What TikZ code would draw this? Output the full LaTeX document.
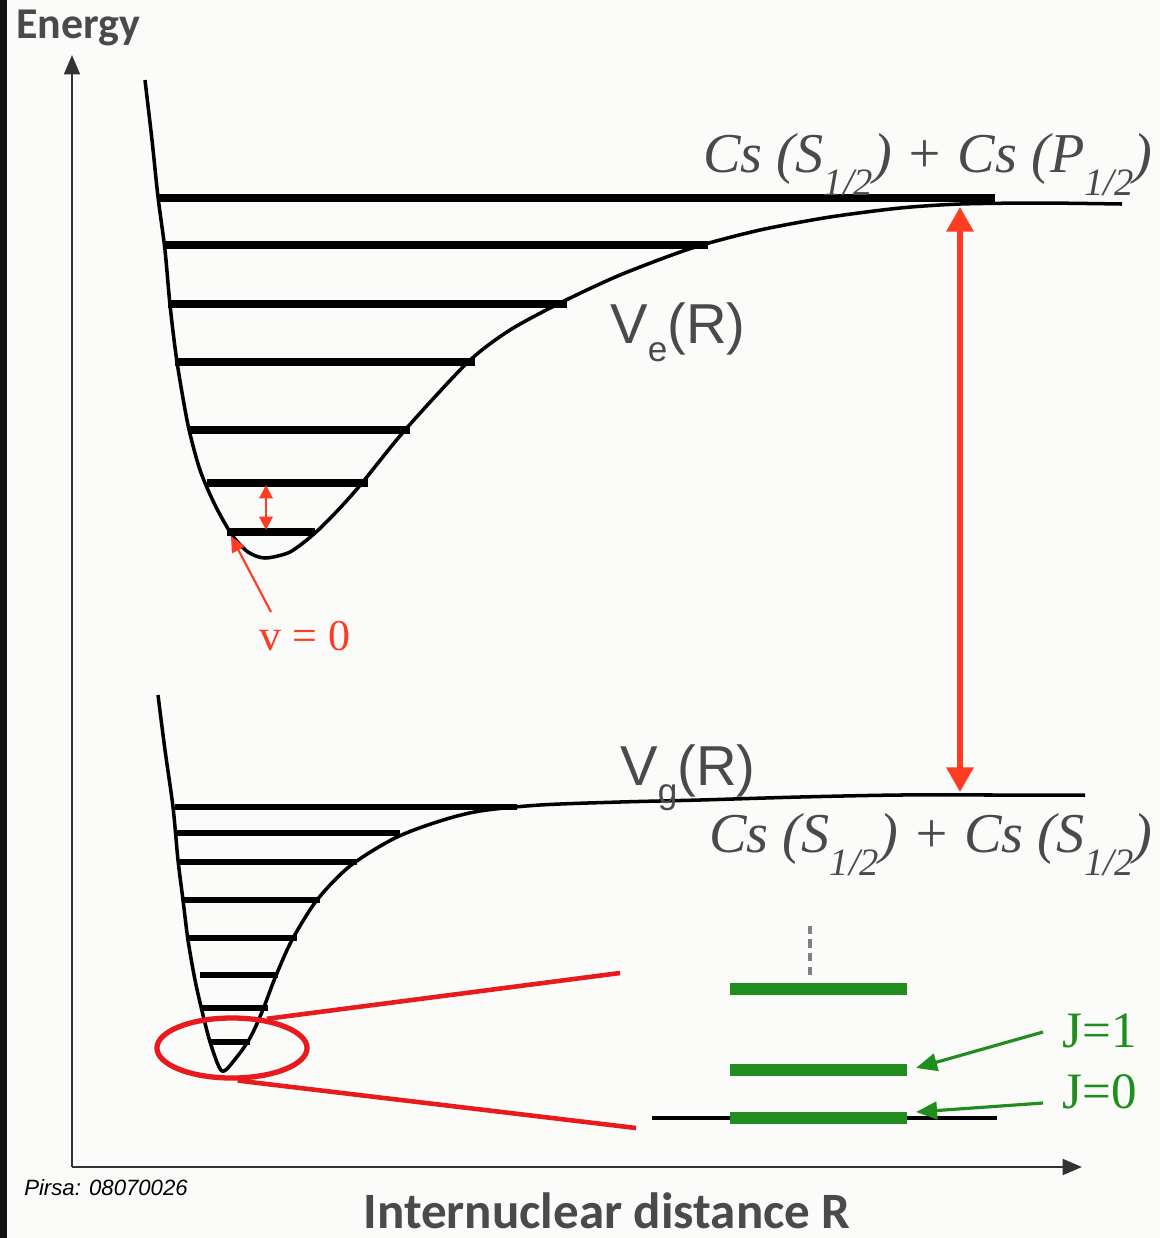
\documentclass[tikz,border=0pt]{standalone}
\usepackage{fontspec}
\setmainfont{Liberation Serif}
\newfontfamily\calfont{Carlito}
\newfontfamily\arfont{Liberation Sans}
\usetikzlibrary{arrows.meta,shapes.geometric}
\definecolor{bg}{HTML}{FBFBF9}
\definecolor{redA}{HTML}{FF3B22}
\definecolor{redB}{HTML}{E81A1E}
\definecolor{grn}{HTML}{1F8E1F}
\definecolor{txt}{HTML}{4A4A4A}
\definecolor{axis}{HTML}{333333}
\newcommand\lsub[1]{\raisebox{-0.42em}{\fontsize{11}{11}\selectfont #1}}
\newcommand\vsub[1]{\raisebox{-0.32em}{\fontsize{10}{10}\selectfont #1}}
\begin{document}
\begin{tikzpicture}[x=0.01cm,y=-0.01cm,
  pot/.style={line width=1pt,black,line join=round},
  lvlup/.style={line width=2pt,black},
  lvldn/.style={line width=1.7pt,black},
  axisline/.style={line width=0.7pt,axis,-{Triangle[width=4.5pt,length=5.5pt]}},
  bigarrow/.style={line width=1.5pt,redA,{Triangle[width=7.5pt,length=7pt]}-{Triangle[width=7.5pt,length=7pt]}},
  smallarrow/.style={line width=0.6pt,redA,{Triangle[width=3.8pt,length=3.8pt]}-{Triangle[width=3.8pt,length=3.8pt]}},
  ptrred/.style={line width=0.6pt,redA,-{Triangle[width=4pt,length=4.5pt]}},
  ptrgrn/.style={line width=0.9pt,grn,-{Triangle[width=5pt,length=6pt]}},
  zoomline/.style={line width=1.3pt,redB},
  gbar/.style={line width=3.4pt,grn},
  pottext/.style={font=\arfont\fontsize{16}{16}\selectfont,text=txt,inner sep=0pt,anchor=base},
  statetext/.style={font=\itshape\fontsize{16}{16}\selectfont,text=txt,inner sep=0pt,anchor=base},
  jtext/.style={font=\fontsize{14.5}{15}\selectfont,text=grn,inner sep=0pt,anchor=base}
]
\useasboundingbox (0,0) rectangle (1160,1238);
\fill[bg] (0,0) rectangle (1160,1238);
\fill[black!93] (0,0) rectangle (7,1238);

% axes
\coordinate (origin) at (72,1167);
\coordinate (ytop) at (72,55);
\coordinate (xend) at (1082,1167);
\draw[axisline] (origin) -- (ytop);
\draw[axisline] (origin) -- (xend);
\node[font=\calfont\bfseries\fontsize{12.5}{13}\selectfont,text=txt,inner sep=0pt,anchor=base] (energy) at (78,38) {Energy};
\node[font=\calfont\bfseries\fontsize{14.5}{15}\selectfont,text=txt,inner sep=0pt,anchor=base] (rlabel) at (607,1228) {Internuclear distance R};
\node[font=\arfont\itshape\fontsize{6.3}{7}\selectfont,text=black,inner sep=0pt,anchor=base] (pirsa) at (106,1195) {Pirsa: 08070026};

% upper potential V_e
\draw[pot] plot[smooth,tension=0.45] coordinates {
 (145,80) (152,140) (158,197) (165,250) (170,305) (177,362) (188,425) (200,470)
 (215,505) (232,535) (248,552) (265,558) (290,552) (315,533) (340,508) (362,483)
 (405,430) (468,362) (510,330) (560,303) (620,275) (692,248) (760,230)
 (830,217) (900,208) (960,204) (1040,203) (1122,204)};
\foreach \y/\a/\b in {198/158/995, 245/165/708, 304/168/567, 362/175/475, 430/188/410, 483/207/368, 532/227/315}
  \draw[lvlup] (\a,\y) -- (\b,\y);

% lower potential V_g
\draw[pot] plot[smooth,tension=0.5] coordinates {
 (158,695) (165,750) (173,807) (178,860) (183,900) (188,940) (195,980) (203,1015)
 (211,1045) (222,1071) (236,1058) (250,1038) (262,1012) (275,978) (292,940) (317,900)
 (350,866) (395,838) (440,821) (480,811) (540,805) (620,802) (700,800) (800,797)
 (900,795) (1000,795) (1085,795)};
\foreach \y/\a/\b in {807/175/517, 833/177/400, 862/180/357, 900/183/320, 938/186/297, 975/200/278, 1008/202/268, 1042/210/250}
  \draw[lvldn] (\a,\y) -- (\b,\y);

% labels of potentials and asymptotes
\node[pottext] (ve) at (678,343) {V\vsub{e}(R)};
\node[pottext] (vg) at (688,785) {V\vsub{g}(R)};
\node[statetext] (upstate) at (928,172) {Cs (S\lsub{1/2}) + Cs (P\lsub{1/2})};
\node[statetext] (dnstate) at (931,852) {Cs (S\lsub{1/2}) + Cs (S\lsub{1/2})};

% transition arrow
\coordinate (tup) at (960,207);
\coordinate (tdn) at (960,792);
\draw[bigarrow] (tdn) -- (tup);

% vibrational spacing arrow and v=0
\coordinate (vs1) at (266,485);
\coordinate (vs2) at (266,530);
\draw[smallarrow] (vs1) -- (vs2);
\node[font=\fontsize{12.5}{13}\selectfont,text=redA,inner sep=0pt,anchor=base] (vzero) at (305,650) {v = 0};
\coordinate (vtail) at (271,612);
\coordinate (vhead) at (231,536);
\draw[ptrred] (vtail) -- (vhead);

% zoom ring
\node[draw=redB,line width=1.5pt,ellipse,inner sep=0pt,
      minimum width=1.5cm,minimum height=0.6cm] (ring) at (232,1048) {};
\coordinate (zu) at (620,973);
\coordinate (zd) at (636,1128);
\draw[zoomline] (ring.40) -- (zu);
\draw[zoomline] (ring.-80) -- (zd);

% rotational levels
\coordinate (b0a) at (652,1118);
\coordinate (b0b) at (997,1118);
\draw[line width=1.4pt,black] (b0a) -- (b0b);
\draw[gbar] (730,1118) -- (907,1118);
\draw[gbar] (730,1070) -- (907,1070);
\draw[gbar] (730,989) -- (907,989);
\draw[line width=0.9pt,gray,dash pattern=on 2.3pt off 1.6pt] (810,975) -- (810,925);

\node[jtext] (j1) at (1100,1047) {J=1};
\node[jtext] (j0) at (1100,1108) {J=0};
\coordinate (j1t) at (1043,1032);
\coordinate (j1h) at (916,1068);
\coordinate (j0t) at (1043,1103);
\coordinate (j0h) at (916,1112);
\draw[ptrgrn] (j1t) -- (j1h);
\draw[ptrgrn] (j0t) -- (j0h);
\end{tikzpicture}
\end{document}
